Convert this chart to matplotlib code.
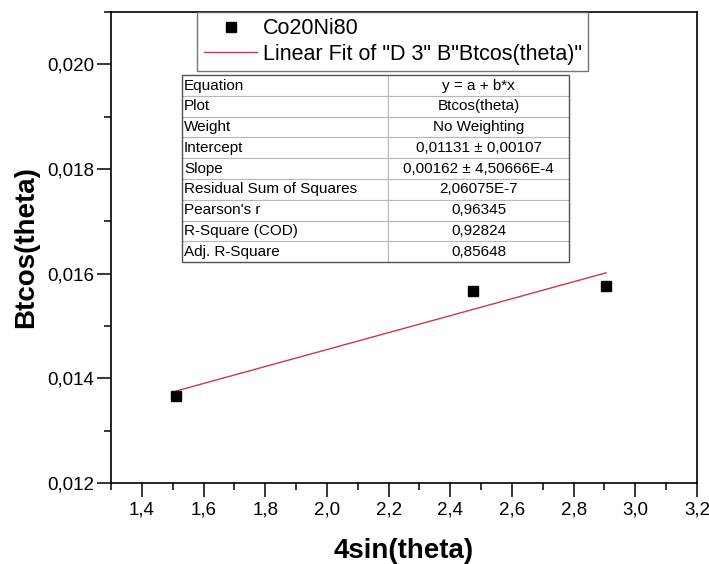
import matplotlib.pyplot as plt
from matplotlib.ticker import MultipleLocator, FuncFormatter
import numpy as np

plt.rcParams['font.family'] = ['Liberation Sans', 'DejaVu Sans']

# data
x_pts = [1.512, 2.475, 2.905]
y_pts = [0.01366, 0.01567, 0.01576]
intercept = 0.01131
slope = 0.00162

table_labels = ['Equation', 'Plot', 'Weight', 'Intercept', 'Slope',
                'Residual Sum of Squares', "Pearson's r", 'R-Square (COD)',
                'Adj. R-Square']
table_values = ['y = a + b*x', 'Btcos(theta)', 'No Weighting',
                '0,01131 \u00b1 0,00107', '0,00162 \u00b1 4,50666E-4',
                '2,06075E-7', '0,96345', '0,92824', '0,85648']

fig = plt.figure(figsize=(7.09, 5.64), dpi=100)
ax = fig.add_axes([0.1566, 0.1436, 0.8265, 0.8351])

ax.plot(x_pts, y_pts, 's', color='black', ms=7, label='Co20Ni80', zorder=3)
xfit = np.array([min(x_pts), max(x_pts)])
ax.plot(xfit, intercept + slope * xfit, '-', color='#c23a55', lw=1.0,
        label='Linear Fit of "D 3" B"Btcos(theta)"')

ax.set_xlim(1.3, 3.2)
ax.set_ylim(0.012, 0.021)
ax.xaxis.set_major_locator(MultipleLocator(0.2))
ax.xaxis.set_minor_locator(MultipleLocator(0.1))
ax.yaxis.set_major_locator(MultipleLocator(0.002))
ax.yaxis.set_minor_locator(MultipleLocator(0.001))
ax.xaxis.set_major_formatter(FuncFormatter(lambda v, p: f'{v:.1f}'.replace('.', ',')))
ax.yaxis.set_major_formatter(FuncFormatter(lambda v, p: f'{v:.3f}'.replace('.', ',')))
ax.tick_params(which='major', direction='out', length=10, width=1.1, labelsize=13.5, pad=3)
ax.tick_params(axis='y', which='major', pad=2)
ax.tick_params(which='minor', direction='out', length=5, width=1.1)
for s in ax.spines.values():
    s.set_linewidth(1.2)

ax.set_xlabel('4sin(theta)', fontsize=20, fontweight='bold', labelpad=14)
ax.set_ylabel('Btcos(theta)', fontsize=20, fontweight='bold', labelpad=6)

leg = ax.legend(loc='upper left', bbox_to_anchor=(0.147, 1.0), fontsize=15.5,
                frameon=True, fancybox=False, edgecolor='#555555',
                borderpad=0.3, handlelength=2.5, handletextpad=0.25,
                labelspacing=0.2, borderaxespad=0)
leg.get_frame().set_linewidth(1.0)

tab = ax.table(cellText=[[a, b] for a, b in zip(table_labels, table_values)],
               colWidths=[0.532, 0.468], cellLoc='left',
               bbox=[0.121, 0.469, 0.661, 0.397])
tab.auto_set_font_size(False)
tab.set_fontsize(11)
for (r, c), cell in tab.get_celld().items():
    cell.set_edgecolor('#b8b8b8')
    cell.set_linewidth(0.8)
    if c == 1:
        cell.get_text().set_horizontalalignment('center')
    else:
        cell.PAD = 0.01

# darker outer border
ax.add_patch(plt.Rectangle((0.121, 0.469), 0.661, 0.397, transform=ax.transAxes,
                           fill=False, edgecolor='#555555', lw=1.0, zorder=5))

fig.savefig('out.png', dpi=100)
